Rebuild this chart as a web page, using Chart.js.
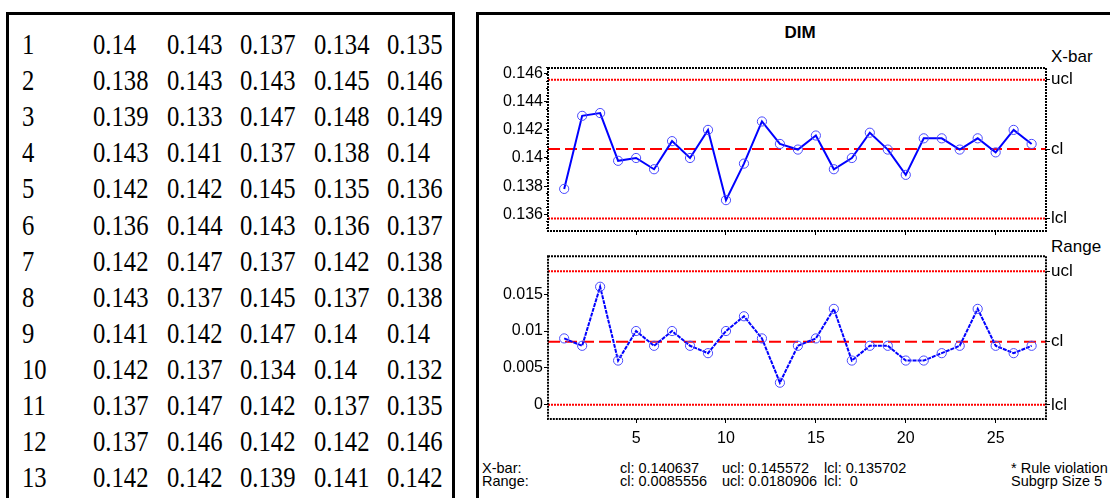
<!DOCTYPE html>
<html><head><meta charset="utf-8">
<script src="https://cdn.jsdelivr.net/npm/chart.js@4.4.1/dist/chart.umd.min.js"></script>
<style>
html,body{margin:0;padding:0;background:#fff;width:1110px;height:498px;overflow:hidden;position:relative;font-family:"Liberation Sans",Arial,sans-serif;}
#tbl{position:absolute;left:6px;top:12px;width:443px;height:520px;border:3px solid #000;border-bottom:none;}
#panel{position:absolute;left:476px;top:12px;width:660px;height:520px;border:3px solid #000;border-right:none;border-bottom:none;}
.cell{position:absolute;font-family:"Liberation Serif","Times New Roman",serif;font-size:29px;line-height:29px;transform:scaleX(0.85);transform-origin:0 50%;white-space:nowrap;color:#000;}
.t{position:absolute;white-space:nowrap;color:#000;}
canvas{position:absolute;}
</style></head><body>
<div id="tbl"></div>
<div id="panel"></div>
<div id="cells"></div>
<div class="t" style="left:700px;top:23px;width:200px;text-align:center;font-weight:bold;font-size:17px;line-height:19px;">DIM</div>
<div class="t" style="left:1051px;top:48px;font-size:17px;line-height:18px;">X-bar</div>
<div class="t" style="left:1051px;top:238px;font-size:17px;line-height:18px;">Range</div>
<div id="stats"></div>
<canvas id="c1" width="632" height="205" style="left:478px;top:40px;width:632px;height:205px;"></canvas>
<canvas id="c2" width="632" height="210" style="left:478px;top:245px;width:632px;height:210px;"></canvas>
<script>
// ---- table data (subgroup measurements) ----
const rowLabels = ["1","2","3","4","5","6","7","8","9","10","11","12","13"];
const tableRows = [
  ["0.14","0.143","0.137","0.134","0.135"],
  ["0.138","0.143","0.143","0.145","0.146"],
  ["0.139","0.133","0.147","0.148","0.149"],
  ["0.143","0.141","0.137","0.138","0.14"],
  ["0.142","0.142","0.145","0.135","0.136"],
  ["0.136","0.144","0.143","0.136","0.137"],
  ["0.142","0.147","0.137","0.142","0.138"],
  ["0.143","0.137","0.145","0.137","0.138"],
  ["0.141","0.142","0.147","0.14","0.14"],
  ["0.142","0.137","0.134","0.14","0.132"],
  ["0.137","0.147","0.142","0.137","0.135"],
  ["0.137","0.146","0.142","0.142","0.146"],
  ["0.142","0.142","0.139","0.141","0.142"]
];
// ---- chart data ----
const subgroups = [1,2,3,4,5,6,7,8,9,10,11,12,13,14,15,16,17,18,19,20,21,22,23,24,25,26,27];
const xbarValues = [0.1378,0.1430,0.1432,0.1398,0.1400,0.1392,0.1412,0.1400,0.1420,0.1370,0.1396,0.1426,0.1410,
                    0.1406,0.1416,0.1392,0.1400,0.1418,0.1406,0.1388,0.1414,0.1414,0.1406,0.1414,0.1404,0.1420,0.1410];
const rangeValues = [0.009,0.008,0.016,0.006,0.010,0.008,0.010,0.008,0.007,0.010,0.012,0.009,0.003,
                     0.008,0.009,0.013,0.006,0.008,0.008,0.006,0.006,0.007,0.008,0.013,0.008,0.007,0.008];
const xbarLimits = {cl:0.140637, ucl:0.145572, lcl:0.135702};
const rangeLimits = {cl:0.0085556, ucl:0.0180906, lcl:0};
const xTicks = [5,10,15,20,25];
const xbarTicks = [0.136,0.138,0.14,0.142,0.144,0.146];
const rangeTicks = [0,0.005,0.01,0.015];
const statsLines = [
  ["X-bar:","cl: 0.140637","ucl: 0.145572","lcl: 0.135702","* Rule violation"],
  ["Range:","cl: 0.0085556","ucl: 0.0180906","lcl:  0","Subgrp Size 5"]
];

// ---- build table ----
const cellsDiv = document.getElementById('cells');
rowLabels.forEach((lab, r) => {
  const top = 45 + r*36.1 - 15;
  const d0 = document.createElement('div');
  d0.className = 'cell'; d0.style.left = '22px'; d0.style.top = top + 'px'; d0.textContent = lab;
  cellsDiv.appendChild(d0);
  tableRows[r].forEach((v, c) => {
    const d = document.createElement('div');
    d.className = 'cell'; d.style.left = (93 + c*73.5) + 'px'; d.style.top = top + 'px'; d.textContent = v;
    cellsDiv.appendChild(d);
  });
});
// ---- stats text ----
const statsX = [482,620,722,824,1011];
const statsDiv = document.getElementById('stats');
statsLines.forEach((line, r) => {
  line.forEach((txt, c) => {
    const d = document.createElement('div');
    d.className = 't';
    d.style.cssText = `left:${statsX[c]}px;top:${461 + r*13}px;font-size:14.5px;line-height:14px;white-space:pre;`;
    d.textContent = txt;
    statsDiv.appendChild(d);
  });
});

const fmt = v => String(Number(v.toFixed(4)));
const tickFont = {family:'"Liberation Sans", Arial, sans-serif', size:16};
const sideFont = {family:'"Liberation Sans", Arial, sans-serif', size:17};

const framePlugin = {
  id:'frame',
  afterDatasetsDraw(chart, args, opts) {
    const {ctx, chartArea:a} = chart;
    ctx.save();
    ctx.strokeStyle = '#000';
    ctx.lineWidth = 2;
    ctx.setLineDash([2,1]);
    ctx.strokeRect(a.left, a.top, a.right - a.left, a.bottom - a.top);
    ctx.setLineDash([]);
    ctx.lineWidth = 1;
    if (opts.minor) {
      const ys = chart.scales.y;
      const [lo, hi, step] = opts.minor;
      for (let k = 0; lo + k*step <= hi + 1e-9; k++) {
        const v = lo + k*step;
        const py = Math.round(ys.getPixelForValue(v)) + 0.5;
        ctx.beginPath(); ctx.moveTo(a.left - 2, py); ctx.lineTo(a.left, py); ctx.stroke();
      }
    }
    ctx.restore();
  }
};

function makeChart(id, values, limits, yMin, yMax, yTicks, showX, padTop, xHeight, minor) {
  const pts = subgroups.map((s, i) => ({x:s, y:values[i]}));
  const xMin = 0.1, xMax = 27.8;
  const hline = (v) => [{x:xMin, y:v},{x:xMax, y:v}];
  return new Chart(document.getElementById(id), {
    type:'line',
    data:{datasets:[
      {data:pts, borderColor:'#0000ff', borderWidth: 2, borderDash: showX ? [4,1] : [],
       pointRadius:4.6, pointHoverRadius:4.6, pointBorderColor:'#4a4aff', pointBackgroundColor:'rgba(0,0,0,0)',
       pointBorderWidth:1, tension:0},
      {data:hline(limits.ucl), borderColor:'#ff0000', borderWidth:2, borderDash:[2,1], pointRadius:0},
      {data:hline(limits.cl), borderColor:'#ff0000', borderWidth:2, borderDash:[12,5], pointRadius:0},
      {data:hline(limits.lcl), borderColor:'#ff0000', borderWidth:2, borderDash:[2,1], pointRadius:0}
    ]},
    options:{
      responsive:false, animation:false, devicePixelRatio:1,
      layout:{padding:{top:padTop, left:0, right:0, bottom:0}},
      plugins:{legend:{display:false}, tooltip:{enabled:false}, frame:{minor:minor}},
      events:[],
      scales:{
        x:{type:'linear', min:xMin, max:xMax,
           afterBuildTicks:s=>{s.ticks = xTicks.map(v=>({value:v}));},
           ticks:{display:showX, color:'#000', font:tickFont, padding:6, callback:v=>String(v), maxRotation:0, autoSkip:false},
           grid:{drawOnChartArea:false, drawTicks:true, tickLength:4, color:'#000', lineWidth:1},
           border:{display:false},
           afterFit:s=>{s.height = xHeight;}},
        y:{type:'linear', position:'left', min:yMin, max:yMax,
           afterBuildTicks:s=>{s.ticks = yTicks.map(v=>({value:v}));},
           ticks:{color:'#000', font:tickFont, padding:1, callback:v=>fmt(v), autoSkip:false},
           grid:{drawOnChartArea:false, drawTicks:true, tickLength:4, color:'#000', lineWidth:1},
           border:{display:false},
           afterFit:s=>{s.width = 70;}},
        y2:{type:'linear', position:'right', min:yMin, max:yMax,
           afterBuildTicks:s=>{s.ticks = [limits.lcl, limits.cl, limits.ucl].map(v=>({value:v}));},
           ticks:{color:'#000', font:sideFont, padding:1, autoSkip:false,
                  callback:v=> v===limits.ucl ? 'ucl' : (v===limits.cl ? 'cl' : 'lcl')},
           grid:{drawOnChartArea:false, drawTicks:true, tickLength:4, color:'#000', lineWidth:1},
           border:{display:false},
           afterFit:s=>{s.width = 64;}}
      }
    },
    plugins:[framePlugin]
  });
}

makeChart('c1', xbarValues, xbarLimits, 0.134804, 0.146406, xbarTicks, false, 28, 14, [0.135, 0.1465, 0.0005]);
makeChart('c2', rangeValues, rangeLimits, -0.00192, 0.02014, rangeTicks, true, 10, 36, null);
</script>
</body></html>
